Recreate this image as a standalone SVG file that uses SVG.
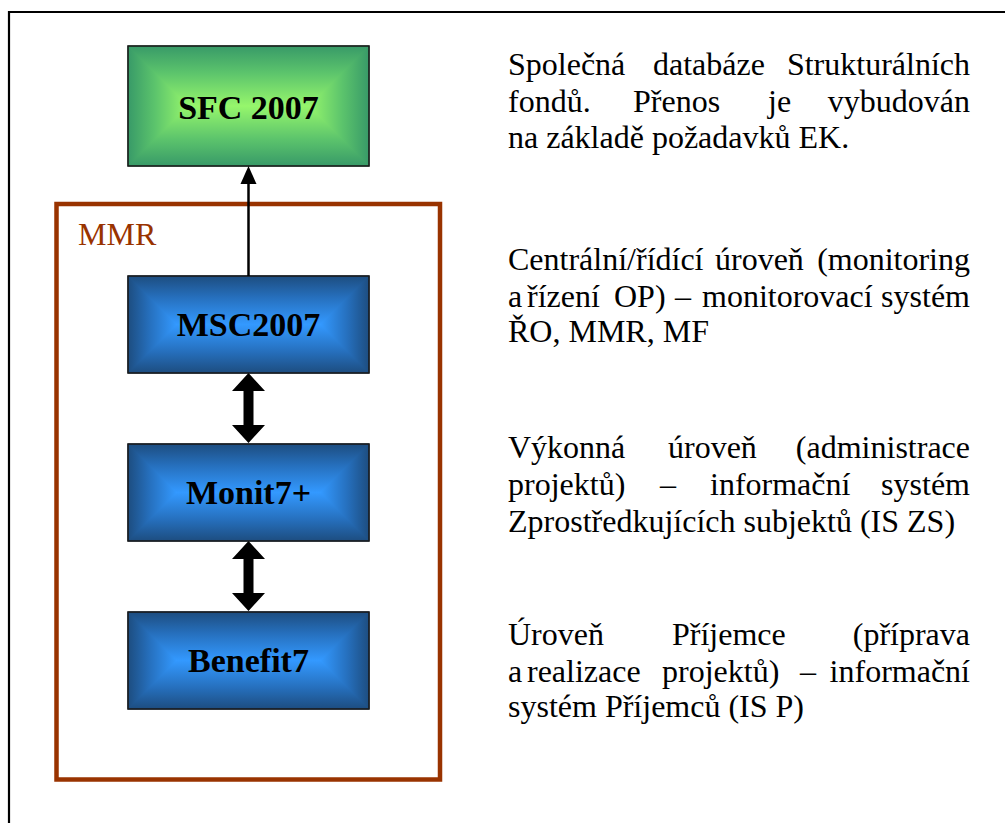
<svg xmlns="http://www.w3.org/2000/svg" width="1005" height="823" viewBox="0 0 1005 823">
<style>
.lbl{font-family:"Times New Roman","Liberation Serif",Tinos,"DejaVu Serif",serif;font-weight:bold;font-size:34px;fill:#000;text-anchor:middle}
.desc{font-family:"Times New Roman","Liberation Serif",Tinos,"DejaVu Serif",serif;font-weight:normal;font-size:32px;fill:#000}
.end{text-anchor:end}
.box{fill:none;stroke:#1a1a1a;stroke-width:1.6}
.gt{fill:url(#gTop);stroke:url(#gTop)}.gb{fill:url(#gBot);stroke:url(#gBot)}.gl{fill:url(#gLeft);stroke:url(#gLeft)}.gr{fill:url(#gRight);stroke:url(#gRight)}
.bt{fill:url(#bTop);stroke:url(#bTop)}.bb{fill:url(#bBot);stroke:url(#bBot)}.bl{fill:url(#bLeft);stroke:url(#bLeft)}.br{fill:url(#bRight);stroke:url(#bRight)}
polygon.f{stroke-width:1;stroke-linejoin:round}
</style>
<defs>
<linearGradient id="gTop" x1="0" y1="0" x2="0" y2="1"><stop offset="0" stop-color="#389a68"/><stop offset="0.45" stop-color="#5cc46c"/><stop offset="1" stop-color="#96f66c"/></linearGradient>
<linearGradient id="gBot" x1="0" y1="1" x2="0" y2="0"><stop offset="0" stop-color="#389a68"/><stop offset="0.45" stop-color="#5cc46c"/><stop offset="1" stop-color="#96f66c"/></linearGradient>
<linearGradient id="gLeft" x1="0" y1="0" x2="1" y2="0"><stop offset="0" stop-color="#389a68"/><stop offset="0.45" stop-color="#5cc46c"/><stop offset="1" stop-color="#96f66c"/></linearGradient>
<linearGradient id="gRight" x1="1" y1="0" x2="0" y2="0"><stop offset="0" stop-color="#389a68"/><stop offset="0.45" stop-color="#5cc46c"/><stop offset="1" stop-color="#96f66c"/></linearGradient>
<linearGradient id="bTop" x1="0" y1="0" x2="0" y2="1"><stop offset="0" stop-color="#1d4d80"/><stop offset="0.45" stop-color="#2670be"/><stop offset="1" stop-color="#3399ff"/></linearGradient>
<linearGradient id="bBot" x1="0" y1="1" x2="0" y2="0"><stop offset="0" stop-color="#1d4d80"/><stop offset="0.45" stop-color="#2670be"/><stop offset="1" stop-color="#3399ff"/></linearGradient>
<linearGradient id="bLeft" x1="0" y1="0" x2="1" y2="0"><stop offset="0" stop-color="#1d4d80"/><stop offset="0.45" stop-color="#2670be"/><stop offset="1" stop-color="#3399ff"/></linearGradient>
<linearGradient id="bRight" x1="1" y1="0" x2="0" y2="0"><stop offset="0" stop-color="#1d4d80"/><stop offset="0.45" stop-color="#2670be"/><stop offset="1" stop-color="#3399ff"/></linearGradient>
</defs>
<rect width="1005" height="823" fill="#fff"/>
<g id="frame"><path d="M1006,12 H9 V824" fill="none" stroke="#000" stroke-width="2.2"/></g>
<g id="mmr">
<rect x="56.5" y="204" width="383.5" height="575.5" fill="none" stroke="#993300" stroke-width="4.5"/>
<text class="desc" x="78" y="245" style="fill:#993300">MMR</text>
</g>
<g id="sfc">
<polygon class="f gt" points="128,46 369,46 309,106 188,106"/>
<polygon class="f gb" points="128,166 369,166 309,106 188,106"/>
<polygon class="f gl" points="128,46 188,106 128,166"/>
<polygon class="f gr" points="369,46 309,106 369,166"/>
<rect class="box" x="128" y="46" width="241" height="120"/>
<text class="lbl" x="248.5" y="119">SFC 2007</text>
</g>
<g id="msc">
<polygon class="f bt" points="128,276 369,276 320.5,324.5 176.5,324.5"/>
<polygon class="f bb" points="128,373 369,373 320.5,324.5 176.5,324.5"/>
<polygon class="f bl" points="128,276 176.5,324.5 128,373"/>
<polygon class="f br" points="369,276 320.5,324.5 369,373"/>
<rect class="box" x="128" y="276" width="241" height="97"/>
<text class="lbl" x="248.5" y="336">MSC2007</text>
</g>
<g id="monit">
<polygon class="f bt" points="128,444 369,444 320.5,492.5 176.5,492.5"/>
<polygon class="f bb" points="128,541 369,541 320.5,492.5 176.5,492.5"/>
<polygon class="f bl" points="128,444 176.5,492.5 128,541"/>
<polygon class="f br" points="369,444 320.5,492.5 369,541"/>
<rect class="box" x="128" y="444" width="241" height="97"/>
<text class="lbl" x="248.5" y="504">Monit7+</text>
</g>
<g id="benefit">
<polygon class="f bt" points="128,612 369,612 320.5,660.5 176.5,660.5"/>
<polygon class="f bb" points="128,709 369,709 320.5,660.5 176.5,660.5"/>
<polygon class="f bl" points="128,612 176.5,660.5 128,709"/>
<polygon class="f br" points="369,612 320.5,660.5 369,709"/>
<rect class="box" x="128" y="612" width="241" height="97"/>
<text class="lbl" x="248.5" y="672">Benefit7</text>
</g>
<g id="connectors">
<line x1="248.5" y1="276" x2="248.5" y2="182" stroke="#000" stroke-width="2.5"/>
<polygon points="248.5,166 240.5,184 256.5,184" fill="#000"/>
<polygon points="248.5,373 265,391 253.5,391 253.5,425 265,425 248.5,443 232,425 243.5,425 243.5,391 232,391" fill="#000"/>
<polygon points="248.5,541 265,559 253.5,559 253.5,593 265,593 248.5,611 232,593 243.5,593 243.5,559 232,559" fill="#000"/>
</g>
<g id="texts">
<text class="desc" x="508" y="75">Společná</text><text class="desc" x="653" y="75">databáze</text><text class="desc end" x="970" y="75">Strukturálních</text>
<text class="desc" x="508" y="111.7">fondů.</text><text class="desc" x="633" y="111.7">Přenos</text><text class="desc" x="768" y="111.7">je</text><text class="desc end" x="970" y="111.7">vybudován</text>
<text class="desc" x="508" y="148">na základě požadavků EK.</text>
<text class="desc" x="508" y="270">Centrální/řídící</text><text class="desc" x="715" y="270">úroveň</text><text class="desc end" x="970" y="270">(monitoring</text>
<text class="desc" x="508" y="306.7">a</text><text class="desc" x="527" y="306.7">řízení</text><text class="desc" x="614" y="306.7">OP)</text><text class="desc" x="675" y="306.7">–</text><text class="desc" x="702" y="306.7">monitorovací</text><text class="desc end" x="970" y="306.7">systém</text>
<text class="desc" x="508" y="341.7">ŘO, MMR, MF</text>
<text class="desc" x="508" y="458">Výkonná</text><text class="desc" x="668" y="458">úroveň</text><text class="desc end" x="970" y="458">(administrace</text>
<text class="desc" x="508" y="495">projektů)</text><text class="desc" x="660" y="495">–</text><text class="desc" x="710" y="495">informační</text><text class="desc end" x="970" y="495">systém</text>
<text class="desc" x="508" y="531.5">Zprostředkujících subjektů (IS ZS)</text>
<text class="desc" x="508" y="645">Úroveň</text><text class="desc" x="672" y="645">Příjemce</text><text class="desc end" x="970" y="645">(příprava</text>
<text class="desc" x="508" y="681.7">a</text><text class="desc" x="527" y="681.7">realizace</text><text class="desc" x="662" y="681.7">projektů)</text><text class="desc" x="800" y="681.7">–</text><text class="desc end" x="970" y="681.7">informační</text>
<text class="desc" x="508" y="716.7">systém Příjemců (IS P)</text>
</g>
</svg>
